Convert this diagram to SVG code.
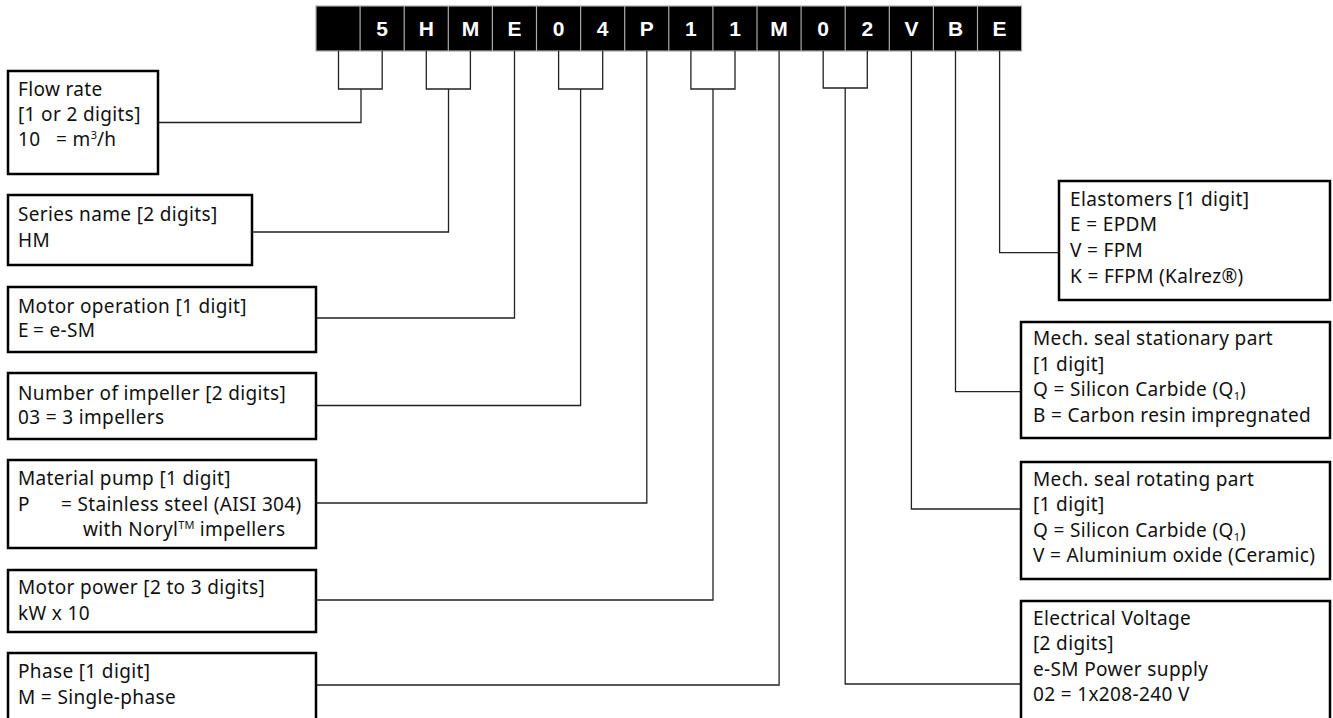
<svg xmlns="http://www.w3.org/2000/svg" width="1333" height="718" viewBox="0 0 1333 718">
<style>
.box{fill:#fff;stroke:#000;stroke-width:2.5}
.t{font-family:"Noto Sans","Open Sans",sans-serif;font-size:19px;letter-spacing:0.35px;fill:#111}
.c{font-family:"Liberation Sans",Arial,sans-serif;font-size:21px;font-weight:bold;fill:#fff;text-anchor:middle}
.sep{stroke:#aaa;stroke-width:1.2}
.con{fill:none;stroke:#222;stroke-width:1.3}
.sup{font-size:11px;letter-spacing:0}
</style>
<rect width="1333" height="718" fill="#fff"/>
<g id="code">
<rect x="316" y="6" width="705.6" height="45" fill="#000" stroke="#aaa" stroke-width="1.2"/>
<path class="sep" d="M360.1,6V51M404.2,6V51M448.3,6V51M492.4,6V51M536.5,6V51M580.6,6V51M624.7,6V51M668.8,6V51M712.9,6V51M757,6V51M801.1,6V51M845.2,6V51M889.3,6V51M933.4,6V51M977.5,6V51"/>
<text class="c" x="382.2" y="36">5</text>
<text class="c" x="426.3" y="36">H</text>
<text class="c" x="470.4" y="36">M</text>
<text class="c" x="514.5" y="36">E</text>
<text class="c" x="558.6" y="36">0</text>
<text class="c" x="602.7" y="36">4</text>
<text class="c" x="646.8" y="36">P</text>
<text class="c" x="690.9" y="36">1</text>
<text class="c" x="735" y="36">1</text>
<text class="c" x="779.1" y="36">M</text>
<text class="c" x="823.2" y="36">0</text>
<text class="c" x="867.3" y="36">2</text>
<text class="c" x="911.4" y="36">V</text>
<text class="c" x="955.5" y="36">B</text>
<text class="c" x="999.6" y="36">E</text>
</g>
<g id="connectors">
<path class="con" d="M338.5,51V89H382.2V51M361,89V122.5H158"/>
<path class="con" d="M426.3,51V89H470.4V51M448.5,89V232H252"/>
<path class="con" d="M514.5,51V318H316"/>
<path class="con" d="M558.6,51V89H602.7V51M580.6,89V405.5H316"/>
<path class="con" d="M646.8,51V503H316"/>
<path class="con" d="M690.9,51V89H735V51M713,89V600H316"/>
<path class="con" d="M779.1,51V685H316"/>
<path class="con" d="M823.2,51V88H867.3V51M845.2,88V684H1021"/>
<path class="con" d="M911.4,51V509H1021"/>
<path class="con" d="M955.5,51V391.7H1021"/>
<path class="con" d="M999.6,51V252.7H1059"/>
</g>
<g id="flow-rate">
<rect class="box" x="8" y="71" width="150" height="103"/>
<text class="t" x="18" y="96">Flow rate</text>
<text class="t" x="18" y="121">[1 or 2 digits]</text>
<text class="t" x="18" y="146">10<tspan x="56">= m</tspan><tspan class="sup" dy="-7">3</tspan><tspan dy="7">/h</tspan></text>
</g>
<g id="series-name">
<rect class="box" x="8" y="195" width="244" height="70"/>
<text class="t" x="18" y="221">Series name [2 digits]</text>
<text class="t" x="18" y="247">HM</text>
</g>
<g id="motor-operation">
<rect class="box" x="8" y="287" width="308" height="65"/>
<text class="t" x="18" y="313">Motor operation [1 digit]</text>
<text class="t" x="18" y="337">E<tspan x="33">= e-SM</tspan></text>
</g>
<g id="number-of-impeller">
<rect class="box" x="8" y="373" width="308" height="66"/>
<text class="t" x="18" y="400">Number of impeller [2 digits]</text>
<text class="t" x="18" y="424">03 = 3 impellers</text>
</g>
<g id="material-pump">
<rect class="box" x="8" y="460" width="308" height="88"/>
<text class="t" x="18" y="485">Material pump [1 digit]</text>
<text class="t" x="18" y="511">P<tspan x="61">= Stainless steel (AISI 304)</tspan></text>
<text class="t" x="83" y="536">with Noryl<tspan class="sup" dy="-7">TM</tspan><tspan dy="7"> impellers</tspan></text>
</g>
<g id="motor-power">
<rect class="box" x="8" y="570" width="308" height="62"/>
<text class="t" x="18" y="594">Motor power [2 to 3 digits]</text>
<text class="t" x="18" y="620">kW x 10</text>
</g>
<g id="phase">
<rect class="box" x="8" y="653" width="308" height="80"/>
<text class="t" x="18" y="678">Phase [1 digit]</text>
<text class="t" x="18" y="704">M = Single-phase</text>
</g>
<g id="elastomers">
<rect class="box" x="1059" y="181" width="271" height="119"/>
<text class="t" x="1070" y="206">Elastomers [1 digit]</text>
<text class="t" x="1070" y="231">E = EPDM</text>
<text class="t" x="1070" y="257">V = FPM</text>
<text class="t" x="1070" y="283">K = FFPM (Kalrez®)</text>
</g>
<g id="seal-stationary">
<rect class="box" x="1021" y="322" width="309" height="116"/>
<text class="t" x="1033" y="345">Mech. seal stationary part</text>
<text class="t" x="1033" y="370.5">[1 digit]</text>
<text class="t" x="1033" y="396">Q = Silicon Carbide (Q<tspan class="sup" dy="4">1</tspan><tspan dy="-4">)</tspan></text>
<text class="t" x="1033" y="421.5">B = Carbon resin impregnated</text>
</g>
<g id="seal-rotating">
<rect class="box" x="1021" y="462" width="309" height="117"/>
<text class="t" x="1033" y="486">Mech. seal rotating part</text>
<text class="t" x="1033" y="511">[1 digit]</text>
<text class="t" x="1033" y="536.5">Q = Silicon Carbide (Q<tspan class="sup" dy="4">1</tspan><tspan dy="-4">)</tspan></text>
<text class="t" x="1033" y="562">V = Aluminium oxide (Ceramic)</text>
</g>
<g id="electrical-voltage">
<rect class="box" x="1021" y="601" width="309" height="130"/>
<text class="t" x="1033" y="624.5">Electrical Voltage</text>
<text class="t" x="1033" y="650">[2 digits]</text>
<text class="t" x="1033" y="675.5">e-SM Power supply</text>
<text class="t" x="1033" y="701">02 = 1x208-240 V</text>
</g>
</svg>
